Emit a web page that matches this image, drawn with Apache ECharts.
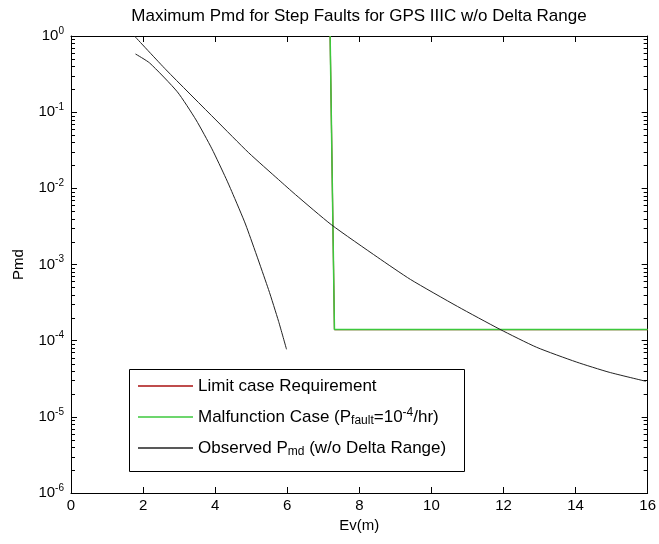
<!DOCTYPE html>
<html>
<head>
<meta charset="utf-8">
<script src="https://cdn.jsdelivr.net/npm/echarts@6/dist/echarts.min.js"></script>
<style>html,body{margin:0;padding:0;background:#fff}#c{width:659px;height:544px}</style>
</head>
<body>
<div id="c"></div>
<script>
// ---- data ----
const xTicks = [0, 2, 4, 6, 8, 10, 12, 14, 16];
const yDecades = [1e-6, 1e-5, 1e-4, 1e-3, 1e-2, 1e-1, 1];

// Observed Pmd (upper black curve)
const obsEv  = [1.76, 2.64, 4.02, 4.93, 5.76, 6.23, 7.22, 8.51, 9.42, 10.72, 11.90, 12.92, 14.02, 14.93, 15.95];
const obsPmd = [1.0, 0.359, 0.079, 0.0293, 0.013, 8.26e-3, 3.34e-3, 1.24e-3, 6.36e-4, 2.82e-4, 1.41e-4, 8.18e-5, 5.25e-5, 3.85e-5, 2.93e-5];

// second black curve (steeper)
const obs2Ev  = [1.79, 2.18, 2.95, 3.47, 3.91, 4.30, 4.46, 4.85, 5.48, 5.76, 5.98];
const obs2Pmd = [0.58, 0.443, 0.185, 0.079, 0.033, 0.0135, 9.1e-3, 3.3e-3, 4.7e-4, 1.79e-4, 7.7e-5];

// Malfunction case (green)
const malEv  = [7.19, 7.31, 16];
const malPmd = [1, 1.4e-4, 1.4e-4];

// Limit case requirement (red, hidden beneath green)
const limEv  = [7.19, 7.31, 16];
const limPmd = [1, 1.4e-4, 1.4e-4];

const legendNames = ['Limit case Requirement', 'Malfunction Case', 'Observed Pmd'];
const legendLabels = {
  'Limit case Requirement': 'Limit case Requirement',
  'Malfunction Case': 'Malfunction Case (P{sub|fault}=10{sup|-4}/hr)',
  'Observed Pmd': 'Observed P{sub|md} (w/o Delta Range)'
};

// minor ticks of the log axis (2..9 x 10^n)
const minorTicks = [];
for (let e = -6; e < 0; e++) for (let m = 2; m <= 9; m++) minorTicks.push(m * Math.pow(10, e));

const zip = (a, b) => a.map((v, i) => [v, b[i]]);
const FONT = 'Liberation Sans, Arial, sans-serif';

const chart = echarts.init(document.getElementById('c'));
const supRich = {
  sup: { fontSize: 10, fontFamily: FONT, color: '#000', verticalAlign: 'top', lineHeight: 9 },
  n: { fontSize: 15, fontFamily: FONT, color: '#000', lineHeight: 20 }
};
const baseAxis = {
  axisLine: { show: true, onZero: false, lineStyle: { color: '#000', width: 1 } },
  splitLine: { show: false },
  axisTick: { show: true, inside: true, length: 6, lineStyle: { color: '#000', width: 1 } }
};

chart.setOption({
  animation: false,
  backgroundColor: '#fff',
  title: {
    text: 'Maximum Pmd for Step Faults for GPS IIIC w/o Delta Range',
    left: 354, textAlign: 'center', top: 3,
    textStyle: { fontSize: 17, fontWeight: 'normal', fontFamily: FONT, color: '#000' }
  },
  grid: { left: 71, right: 7, top: 36, bottom: 51, show: false },
  xAxis: [
    Object.assign({}, baseAxis, {
      type: 'value', min: 0, max: 16, interval: 2, position: 'bottom',
      name: 'Ev(m)', nameLocation: 'middle', nameGap: 24,
      nameTextStyle: { fontSize: 15, fontFamily: FONT, color: '#000' },
      axisLabel: { fontSize: 15, fontFamily: FONT, color: '#000', margin: 5,
        formatter: v => String(v) }
    }),
    Object.assign({}, baseAxis, {
      type: 'value', min: 0, max: 16, interval: 2, position: 'top',
      axisLabel: { show: false }
    })
  ],
  yAxis: [
    Object.assign({}, baseAxis, {
      type: 'log', logBase: 10, min: 1e-6, max: 1, position: 'left',
      name: 'Pmd', nameLocation: 'middle', nameGap: 45,
      nameTextStyle: { fontSize: 15, fontFamily: FONT, color: '#000' },
      axisLabel: {
        margin: 7,
        formatter: v => '{n|10}{sup|' + Math.round(Math.log10(v)) + '}',
        rich: supRich
      }
    }),
    Object.assign({}, baseAxis, {
      type: 'log', logBase: 10, min: 1e-6, max: 1, position: 'right',
      axisLabel: { show: false }
    })
  ],
  legend: {
    data: legendNames,
    orient: 'vertical',
    left: 138, top: 376, padding: 0,
    icon: 'rect',
    itemWidth: 55, itemHeight: 1.3, itemGap: 11,
    formatter: name => legendLabels[name],
    textStyle: {
      fontSize: 17, fontFamily: FONT, color: '#000', lineHeight: 20,
      rich: {
        sub: { fontSize: 12, fontFamily: FONT, color: '#000', verticalAlign: 'bottom', lineHeight: 10 },
        sup: { fontSize: 12, fontFamily: FONT, color: '#000', verticalAlign: 'top', lineHeight: 10 }
      }
    }
  },
  series: [
    { name: 'Limit case Requirement', type: 'line', data: zip(limEv, limPmd), showSymbol: false, symbol: 'none',
      lineStyle: { color: '#aa1111', width: 1.2 }, itemStyle: { color: '#aa1111' }, z: 1 },
    { name: 'Malfunction Case', type: 'line', data: zip(malEv, malPmd), showSymbol: false, symbol: 'none',
      lineStyle: { color: '#3cc83c', width: 1.5 }, itemStyle: { color: '#3cc83c' }, z: 2 },
    { name: 'Observed Pmd', type: 'line', data: zip(obsEv, obsPmd), showSymbol: false, symbol: 'none', smooth: 0.2,
      lineStyle: { color: '#222', width: 1 }, itemStyle: { color: '#222' }, z: 2 },
    { name: 'Observed Pmd 2', type: 'line', data: zip(obs2Ev, obs2Pmd), showSymbol: false, symbol: 'none', smooth: 0.2,
      lineStyle: { color: '#222', width: 1 }, itemStyle: { color: '#222' }, z: 2 }
  ]
});

// minor log ticks and legend frame, positioned through the chart's own scales
const g = [{
  type: 'rect', z: 3,
  shape: { x: 129.5, y: 369.5, width: 335, height: 102 },
  style: { fill: '#fff', stroke: '#000', lineWidth: 1 }
}];
minorTicks.forEach(v => {
  const l = chart.convertToPixel({ gridIndex: 0 }, [0, v]);
  const r = chart.convertToPixel({ gridIndex: 0 }, [16, v]);
  const y = Math.round(l[1]) + 0.5;
  g.push({ type: 'line', z: 50, shape: { x1: l[0], y1: y, x2: l[0] + 4, y2: y }, style: { stroke: '#000', lineWidth: 1 } });
  g.push({ type: 'line', z: 50, shape: { x1: r[0], y1: y, x2: r[0] - 4, y2: y }, style: { stroke: '#000', lineWidth: 1 } });
});
chart.setOption({ graphic: g });
</script>
</body>
</html>
